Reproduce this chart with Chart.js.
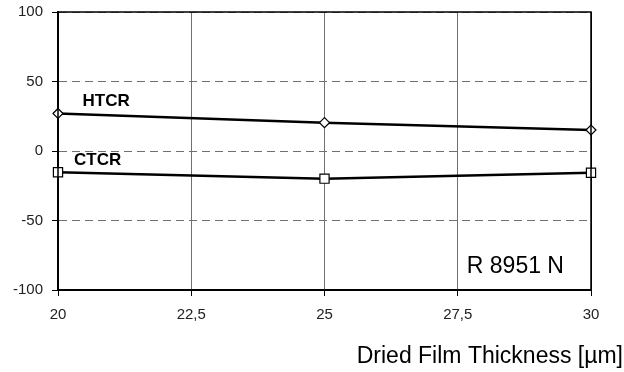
<!DOCTYPE html>
<html>
<head>
<meta charset="utf-8">
<script src="https://cdn.jsdelivr.net/npm/chart.js@4"></script>
<style>
    html, body { margin: 0; padding: 0; background: #fff; }
    #wrap { width: 624px; height: 372px; }
</style>
</head>
<body>
<div id="wrap"><canvas id="chart" width="624" height="372"></canvas></div>
<script>
const thickness = [20, 25, 30];
const htcr = [27, 20.4, 15.1];
const ctcr = [-15.3, -19.9, -15.6];
const xTicks = [20, 22.5, 25, 27.5, 30];
const yTicks = [-100, -50, 0, 50, 100];

const FONT = '"Liberation Sans", Arial, sans-serif';

// frame + texts drawn on top of the chart
const extras = {
    id: 'extras',
    afterDraw(chart) {
        const c = chart.ctx;
        const a = chart.chartArea;
        const xs = chart.scales.x;
        const ys = chart.scales.y;
        c.save();
        c.setLineDash([]);
        c.strokeStyle = '#000';
        c.lineWidth = 1.5;
        c.strokeRect(a.left, a.top, a.right - a.left, a.bottom - a.top);

        c.fillStyle = '#000';
        c.textBaseline = 'alphabetic';
        c.textAlign = 'left';
        c.font = 'bold 17px ' + FONT;
        c.fillText('HTCR', xs.getPixelForValue(20.46), ys.getPixelForValue(32.6));
        c.fillText('CTCR', xs.getPixelForValue(20.3), ys.getPixelForValue(-10));

        c.font = '23px ' + FONT;
        c.fillText('R 8951 N', xs.getPixelForValue(27.67), ys.getPixelForValue(-88));

        c.textAlign = 'right';
        c.font = '23px ' + FONT;
        c.fillText('Dried Film Thickness [\u00b5m]', chart.width - 1, 363);
        c.restore();
    }
};

const ctx = document.getElementById('chart').getContext('2d');
new Chart(ctx, {
    type: 'line',
    data: {
        datasets: [{
            label: 'HTCR',
            data: thickness.map((x, i) => ({ x: x, y: htcr[i] })),
            borderColor: '#000',
            borderWidth: 2.5,
            pointStyle: 'rectRot',
            pointRadius: 5,
            pointBackgroundColor: '#fff',
            pointBorderColor: '#000',
            pointBorderWidth: 1.2,
            clip: false
        }, {
            label: 'CTCR',
            data: thickness.map((x, i) => ({ x: x, y: ctcr[i] })),
            borderColor: '#000',
            borderWidth: 2.5,
            pointStyle: 'rect',
            pointRadius: 6.5,
            pointBackgroundColor: '#fff',
            pointBorderColor: '#000',
            pointBorderWidth: 1.2,
            clip: false
        }]
    },
    options: {
        responsive: false,
        animation: false,
        layout: { padding: { top: 12, right: 33, bottom: 0, left: 0 } },
        plugins: {
            legend: { display: false },
            tooltip: { enabled: false }
        },
        scales: {
            x: {
                type: 'linear',
                min: 20,
                max: 30,
                afterBuildTicks: (scale) => { scale.ticks = xTicks.map(v => ({ value: v })); },
                afterFit: (scale) => {
                    scale.height = 82;
                    scale.paddingLeft = 0;
                    scale.paddingRight = 0;
                },
                ticks: {
                    callback: (v) => String(v).replace('.', ','),
                    color: '#222',
                    font: { family: FONT, size: 15 },
                    padding: 10,
                    maxRotation: 0
                },
                grid: {
                    color: (c) => (c.tick && (c.tick.value === 20 || c.tick.value === 30)) ? '#000' : '#707070',
                    lineWidth: 1,
                    tickLength: 6,
                    tickColor: '#000'
                },
                border: { color: '#000', width: 2 }
            },
            y: {
                min: -100,
                max: 100,
                afterBuildTicks: (scale) => { scale.ticks = yTicks.map(v => ({ value: v })); },
                afterFit: (scale) => {
                    scale.width = 58;
                    scale.paddingTop = 0;
                    scale.paddingBottom = 0;
                },
                ticks: {
                    color: '#222',
                    font: { family: FONT, size: 15 },
                    padding: 9
                },
                grid: {
                    color: '#707070',
                    lineWidth: 1,
                    tickLength: 6,
                    tickColor: '#000',
                    tickBorderDash: [1, 0]
                },
                border: { color: '#000', width: 2, dash: [8, 5] }
            }
        }
    },
    plugins: [extras]
});
</script>
</body>
</html>
